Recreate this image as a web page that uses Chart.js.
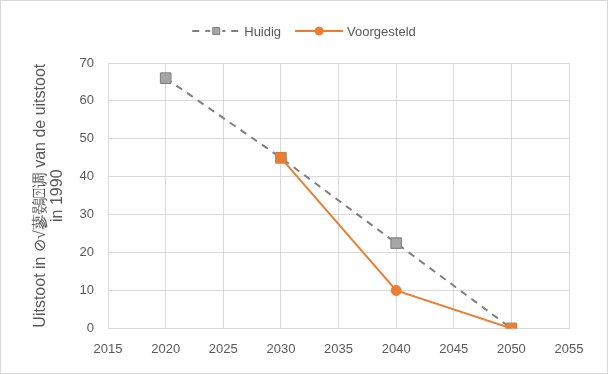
<!DOCTYPE html>
<html>
<head>
<meta charset="utf-8">
<script src="https://cdn.jsdelivr.net/npm/chart.js@4"></script>
<style>
  html, body { margin: 0; padding: 0; background: #fff; }
  #wrap { width: 606px; height: 372px; border: 1px solid #d9d9d9; position: relative; }
</style>
</head>
<body>
<div id="wrap"><canvas id="c" width="606" height="372"></canvas></div>
<script>
  // Data
  const seriesNames = ['Huidig', 'Voorgesteld'];
  const huidigYears = [2020, 2030, 2040, 2050];
  const huidigValues = [66, 45, 22.5, 0];
  const voorgesteldYears = [2030, 2040, 2050];
  const voorgesteldValues = [45, 10, 0];
  const voorgesteldShapes = ['rect', 'circle', 'rect'];
  const xTicks = [2015, 2020, 2025, 2030, 2035, 2040, 2045, 2050, 2055];
  const yTicks = [0, 10, 20, 30, 40, 50, 60, 70];
  const yTitle = ['Uitstoot in \u2298\u221A\u84FC\u9DC3\u2370\u8C03 van de uitstoot', 'in 1990'];

  const FONT = "'Liberation Sans', 'Open Sans', sans-serif";
  const TEXT = '#595959';
  const GRID = '#d9d9d9';
  const GRAY = '#7f7f7f';
  const GRAY_FILL = '#a5a5a5';
  const ORANGE = '#ed7d31';

  const zip = (xs, ys) => xs.map((x, i) => ({ x: x, y: ys[i] }));

  // Legend drawn by hand so each entry shows its line plus marker, like Excel
  const lineLegend = {
    id: 'lineLegend',
    afterDraw(chart) {
      const ctx = chart.ctx;
      const sets = chart.data.datasets;
      const y = 30;
      const lineW = 48;
      const gap = 4;
      const spacing = 14;
      ctx.save();
      ctx.font = '13px ' + FONT;
      const widths = sets.map((d) => lineW + gap + ctx.measureText(d.label).width);
      const total = widths.reduce((a, b) => a + b, 0) + spacing * (sets.length - 1);
      let x = (chart.width - total) / 2;
      sets.forEach((d, i) => {
        const mid = x + lineW / 2;
        ctx.strokeStyle = d.borderColor;
        ctx.lineWidth = d.borderWidth;
        ctx.setLineDash(d.borderDash || []);
        ctx.beginPath();
        ctx.moveTo(x, y);
        ctx.lineTo(x + lineW, y);
        ctx.stroke();
        ctx.setLineDash([]);
        const style = Array.isArray(d.pointStyle) ? 'circle' : d.pointStyle;
        // clear behind the marker so dashes do not run through it
        if (d.borderDash) {
          ctx.fillStyle = '#fff';
          ctx.fillRect(mid - 9, y - 5, 18, 10);
          ctx.beginPath();
          ctx.moveTo(mid - 9, y);
          ctx.lineTo(mid - 6, y);
          ctx.moveTo(mid + 6, y);
          ctx.lineTo(mid + 9, y);
          ctx.stroke();
        }
        ctx.fillStyle = Array.isArray(d.pointBackgroundColor) ? d.pointBackgroundColor[1] : d.pointBackgroundColor;
        ctx.strokeStyle = Array.isArray(d.pointBorderColor) ? d.pointBorderColor[1] : d.pointBorderColor;
        ctx.lineWidth = 1;
        ctx.beginPath();
        if (style === 'rect') {
          ctx.rect(mid - 3.5, y - 3.5, 7, 7);
        } else {
          ctx.arc(mid, y, 4, 0, Math.PI * 2);
        }
        ctx.fill();
        ctx.stroke();
        ctx.fillStyle = TEXT;
        ctx.textBaseline = 'middle';
        ctx.fillText(d.label, x + lineW + gap, y + 1);
        x += widths[i] + spacing;
      });
      ctx.restore();
    },
  };

  new Chart(document.getElementById('c'), {
    type: 'line',
    data: {
      datasets: [
        {
          label: seriesNames[0],
          data: zip(huidigYears, huidigValues),
          order: 1,
          borderColor: GRAY,
          borderWidth: 2,
          borderDash: [7, 6],
          pointStyle: 'rect',
          pointRadius: 7.5,
          pointBackgroundColor: GRAY_FILL,
          pointBorderColor: GRAY,
          pointBorderWidth: 1,
        },
        {
          label: seriesNames[1],
          data: zip(voorgesteldYears, voorgesteldValues),
          order: 0,
          borderColor: ORANGE,
          borderWidth: 2,
          pointStyle: voorgesteldShapes,
          pointRadius: [7, 5, 7],
          pointBackgroundColor: [ORANGE, ORANGE, ORANGE],
          pointBorderColor: [ORANGE, ORANGE, ORANGE],
          pointBorderWidth: 1,
        },
      ],
    },
    options: {
      responsive: false,
      animation: false,
      layout: { padding: { top: 62, right: 38, left: 31, bottom: 3 } },
      plugins: { legend: { display: false }, tooltip: { enabled: false } },
      scales: {
        x: {
          type: 'linear',
          min: xTicks[0],
          max: xTicks[xTicks.length - 1],
          afterBuildTicks: (axis) => { axis.ticks = xTicks.map((v) => ({ value: v })); },
          grid: { color: GRID, drawTicks: false },
          border: { color: GRID },
          ticks: {
            color: TEXT, padding: 13,
            font: { family: FONT, size: 13 },
            callback: (v) => String(v),
          },
        },
        y: {
          min: yTicks[0],
          max: yTicks[yTicks.length - 1],
          afterBuildTicks: (axis) => { axis.ticks = yTicks.map((v) => ({ value: v })); },
          grid: { color: GRID, drawTicks: false },
          border: { color: GRID },
          ticks: { color: TEXT, padding: 14, font: { family: FONT, size: 13 } },
          title: {
            display: true,
            text: yTitle,
            color: TEXT,
            font: { family: FONT, size: 16, lineHeight: 1.05 },
            padding: { top: 0, bottom: 0 },
          },
        },
      },
    },
    plugins: [lineLegend],
  });
</script>
</body>
</html>
